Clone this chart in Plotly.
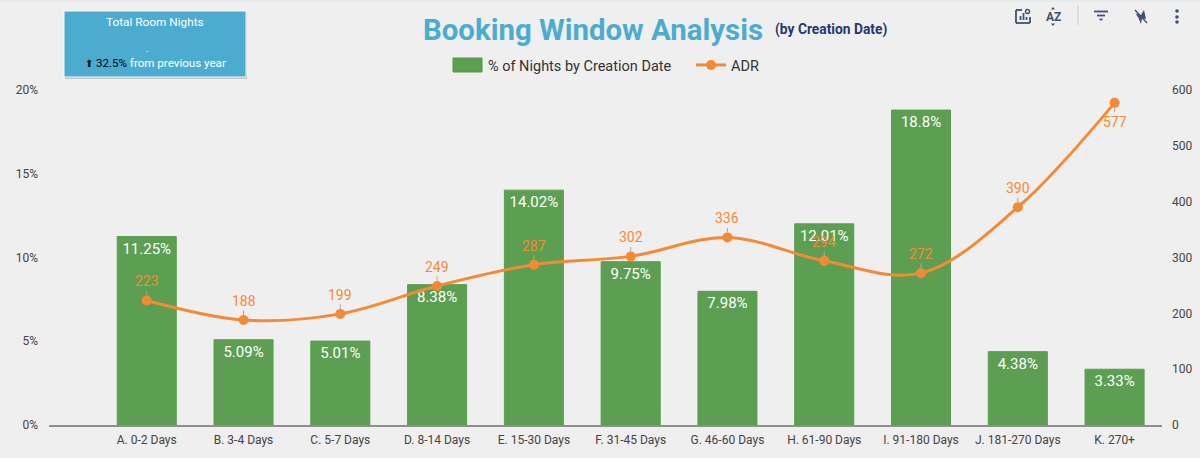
import plotly.graph_objects as go

categories = ["A. 0-2 Days", "B. 3-4 Days", "C. 5-7 Days", "D. 8-14 Days", "E. 15-30 Days", "F. 31-45 Days",
              "G. 46-60 Days", "H. 61-90 Days", "I. 91-180 Days", "J. 181-270 Days", "K. 270+"]
pct_nights = [11.25, 5.09, 5.01, 8.38, 14.02, 9.75, 7.98, 12.01, 18.8, 4.38, 3.33]
adr = [223, 188, 199, 249, 287, 302, 336, 294, 272, 390, 577]
# pixel offset of the ADR labels from their point (577 sits below it)
adr_label_offset = [-19, -19, -19, -19, -19, -19, -19, -19, -19, -19, 19]

WIDTH, HEIGHT = 1200, 458
LEFT, RIGHT, TOP, BOTTOM = 49, 38, 90, 33
BG = "#efefef"
BLUE = "#4cacd0"
ORANGE = "#f58a34"
GREEN = "#5c9e52"
ICON = "#3f5273"


# Converting screen pixels to paper coords for the decorations around the chart
def px(x):
    return (x - LEFT) / (WIDTH - LEFT - RIGHT)


def py(y):
    return 1 - (y - TOP) / (HEIGHT - TOP - BOTTOM)


def rect(x0, y0, x1, y1, fill, line=None, width=0):
    return dict(type="rect", xref="paper", yref="paper", x0=px(x0), y0=py(y0), x1=px(x1), y1=py(y1),
                fillcolor=fill, line=dict(color=line, width=width), layer="above")


def seg(x0, y0, x1, y1, color=ICON, width=1.8):
    return dict(type="line", xref="paper", yref="paper", x0=px(x0), y0=py(y0), x1=px(x1), y1=py(y1),
                line=dict(color=color, width=width), layer="above")


def dot(x, y, r, fill=ICON, line=None, width=0):
    return dict(type="circle", xref="paper", yref="paper", x0=px(x - r), y0=py(y - r), x1=px(x + r), y1=py(y + r),
                fillcolor=fill, line=dict(color=line or fill, width=width), layer="above")


def poly(points, fill=ICON):
    d = "M " + " L ".join(f"{px(x):.5f},{py(y):.5f}" for x, y in points) + " Z"
    return dict(type="path", xref="paper", yref="paper", path=d, fillcolor=fill, line=dict(width=0), layer="above")


def label(x, y, text, size, color, anchor="left", family="Roboto"):
    return dict(xref="paper", yref="paper", x=px(x), y=py(y), text=text, showarrow=False, xanchor=anchor,
                yanchor="middle", font=dict(family=family, size=size, color=color))


fig = go.Figure()
fig.add_bar(x=categories, y=pct_nights, name="% of Nights by Creation Date", width=0.61,
            marker=dict(color=GREEN, line=dict(color="#5a9d4e", width=1)),
            texttemplate="%{y}", textposition="inside", insidetextanchor="end", textangle=0,
            constraintext="none", textfont=dict(family="Roboto", size=15, color="white"))
fig.add_scatter(x=categories, y=adr, name="ADR", yaxis="y2", mode="lines+markers",
                line=dict(color=ORANGE, width=3, shape="spline"), marker=dict(color=ORANGE, size=10))

# ADR labels with their short grey leader lines
annotations = [dict(x=c, y=v, xref="x", yref="y2", text=str(v), showarrow=True, arrowhead=0, arrowwidth=1,
                    arrowcolor="#a9a9a9", ax=0, ay=off, standoff=5, yanchor="middle",
                    font=dict(family="Roboto", size=14, color=ORANGE))
               for c, v, off in zip(categories, adr, adr_label_offset)]

annotations += [
    label(421, 30, "<b>Booking Window Analysis</b>", 29.4, BLUE),
    label(773, 29, "<b>(by Creation Date)</b>", 13.8, "#24386b"),
    label(155, 22, "Total Room Nights", 11.8, "white", "center"),
    label(147, 52, "-", 8, "white", "center"),
    label(155, 63, '<span style="color:black;font-size:10px">⬆</span><span style="color:black"> 32.5%</span>'
                   ' from previous year', 11.6, "white", "center"),
    label(1053, 17, "<b>AZ</b>", 12, ICON, "center"),
]

shapes = [
    rect(0, 0, WIDTH, 1.5, "#e3e8eb"),
    # KPI card with soft shadow
    rect(65, 13, 247, 79, "#c4c4c4"),
    rect(64, 11, 246, 77, BLUE, "#f4f8fa", 1),
    # wide legend swatch as in the original
    rect(453, 58, 482, 72, GREEN, "#4f9a42", 1),
    # chart settings icon
    seg(1016, 10, 1016, 23), seg(1016, 23, 1030, 23), seg(1016, 10, 1022, 10), seg(1030, 23, 1030, 17),
    seg(1020.5, 20, 1020.5, 16), seg(1023.5, 20, 1023.5, 13), seg(1026.5, 20, 1026.5, 17),
    dot(1027.5, 11.5, 2, "rgba(0,0,0,0)", ICON, 1.4),
    # sort icon
    poly([(1051, 9.5), (1055, 9.5), (1053, 7)]), poly([(1051, 23.5), (1055, 23.5), (1053, 26)]),
    seg(1078, 6, 1078, 25, "#cdd1d5", 1.2),
    # filter icon
    seg(1094, 11.5, 1108, 11.5), seg(1097, 15.5, 1105, 15.5), seg(1099.5, 19.5, 1102.5, 19.5),
    # pin off icon
    poly([(1135.5, 13.5), (1141, 15), (1144, 10), (1146, 19), (1142, 18.5), (1141, 24), (1138.5, 18)]),
    seg(1135, 10, 1147, 23, ICON, 1.4),
    # menu dots
    dot(1177, 11, 1.8), dot(1177, 17, 1.8), dot(1177, 22, 1.8),
]

fig.update_layout(
    width=WIDTH, height=HEIGHT, autosize=False,
    margin=dict(l=LEFT, r=RIGHT, t=TOP, b=BOTTOM),
    paper_bgcolor=BG, plot_bgcolor=BG,
    font=dict(family="Roboto", size=12, color="#444444"),
    bargap=0.39,
    showlegend=True,
    legend=dict(orientation="h", x=px(448), xanchor="left", y=py(65), yanchor="middle",
                entrywidth=198, entrywidthmode="pixels",
                font=dict(size=14.5, color="#333333"), bgcolor="rgba(0,0,0,0)", traceorder="normal"),
    xaxis=dict(range=[-1.01, 10.49], showgrid=False, showline=True, linecolor="#8f8f8f", linewidth=1.5,
               ticks="", ticklabelstandoff=3, zeroline=False, automargin=False),
    yaxis=dict(range=[0, 20], dtick=5, ticksuffix="%", showgrid=False, zeroline=False, ticks="",
               ticklabelstandoff=10, automargin=False),
    yaxis2=dict(range=[0, 600], dtick=100, overlaying="y", side="right", showgrid=False, zeroline=False,
                ticks="", ticklabelstandoff=9, automargin=False),
    annotations=annotations,
    shapes=shapes,
)

# Page margin would push the figure 8px off the window corner
fig.write_html("out.html", config={"displayModeBar": False},
               post_script="document.body.style.margin='0';")
